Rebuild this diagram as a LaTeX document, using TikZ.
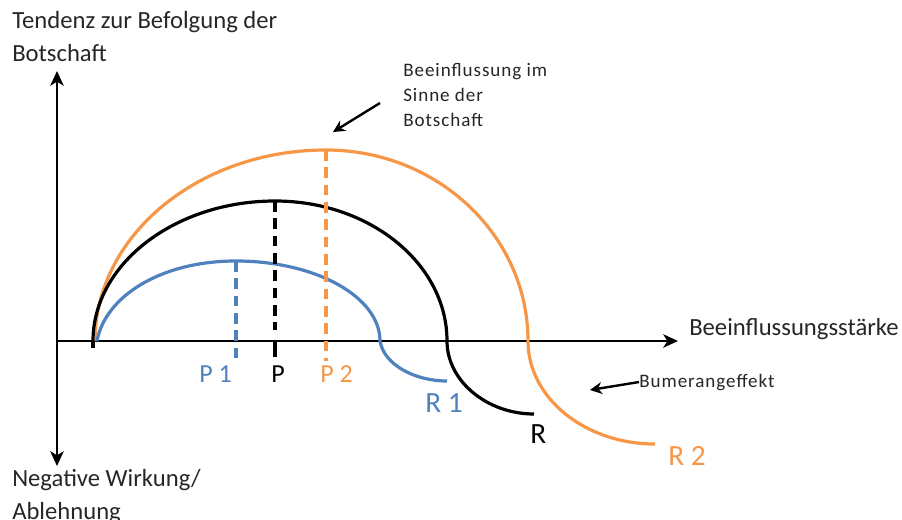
\documentclass[tikz,border=0pt]{standalone}
\usepackage{fontspec}
\setmainfont{Carlito}
\usetikzlibrary{arrows.meta, positioning}
\definecolor{pblue}{RGB}{79,129,189}
\definecolor{porange}{RGB}{247,150,70}

\begin{document}
\begin{tikzpicture}[x=0.75pt, y=-0.75pt,
        axis/.style={line width=2.2pt, -{Stealth[length=11pt,width=10pt,inset=3pt]}},
        curve/.style={line width=2.4pt},
        peakline/.style={line width=2.6pt, dash pattern=on 8pt off 5pt},
        pointer/.style={line width=1.8pt, -{Stealth[length=9pt,width=9pt,inset=3pt]}},
        lbl/.style={inner sep=0pt, anchor=base west, align=left, text=black!85, font=\fontsize{18.5}{24.75}\selectfont},
        note/.style={inner sep=0pt, anchor=base west, align=left, text=black!85, font=\fontsize{14.3}{18.75}\selectfont\addfontfeature{LetterSpace=5}},
        plbl/.style={inner sep=0pt, anchor=base west, font=\fontsize{19.5}{24}\selectfont},
        rlbl/.style={inner sep=0pt, anchor=base west, font=\fontsize{22}{26}\selectfont}]
    \useasboundingbox (0,0) rectangle (902,520);

    % axes
    \coordinate (O) at (57,341);
    \coordinate (ytop) at (57,71);
    \coordinate (ybot) at (57,466);
    \coordinate (xend) at (678,341);
    \draw[axis] (O) -- (ytop);
    \draw[axis] (O) -- (ybot);
    \draw[axis] (O) -- (xend);
    % multi-line nodes sit on their last line
    \node[lbl] (ylab) at (12,62) {Tendenz zur Befolgung der\\Botschaft};
    \node[lbl] (nlab) at (12,519) {Negative Wirkung/\\Ablehnung};
    \node[lbl] (xlab) at (689,335) {Beeinflussungsstärke};

    % curves: start, peak, axis crossing, end
    \coordinate (uS) at (97,341);  \coordinate (uP) at (236,261);
    \coordinate (uX) at (380,341); \coordinate (uE) at (447,381);
    \coordinate (bS) at (93,341);  \coordinate (bP) at (275,201);
    \coordinate (bX) at (447,341); \coordinate (bE) at (534,414);
    \coordinate (oS) at (95,341);  \coordinate (oP) at (326,150);
    \coordinate (oX) at (528,341); \coordinate (oE) at (655,444);

    \draw[curve, porange] (oS) .. controls +(0,-105) and +(-128,0) .. (oP)
        .. controls +(112,0) and +(0,-105) .. (oX)
        .. controls +(0,57) and +(-70,0) .. (oE);
    \draw[curve] (bS) .. controls +(0,-77) and +(-100,0) .. (bP)
        .. controls +(95,0) and +(0,-77) .. (bX)
        .. controls +(0,40) and +(-47,0) .. (bE);
    \draw[curve, pblue] (uS) .. controls +(8,-44) and +(-76,0) .. (uP)
        .. controls +(80,0) and +(0,-44) .. (uX)
        .. controls +(4,24) and +(-32,0) .. (uE);
    \draw[curve] (bS) -- +(0,7);

    % maxima
    \coordinate (uD) at (236,361);
    \coordinate (bD) at (275,330);
    \coordinate (bT) at (275,357);
    \coordinate (oD) at (326,361);
    \draw[peakline, pblue] (uP) -- (uD);
    \draw[peakline] (bP) -- (bD);
    \draw[curve] (bX -| bT) -- (bT);
    \draw[peakline, porange] (oP) -- (oD);

    \node[plbl, text=pblue] (P1) at (199,382) {P 1};
    \node[plbl] (P) at (271,382) {P};
    \node[plbl, text=porange] (P2) at (320,382) {P 2};
    \node[rlbl, text=pblue] (R1) at (425,412) {R 1};
    \node[rlbl] (R) at (530,443) {R};
    \node[rlbl, text=porange] (R2) at (668,465) {R 2};

    % notes
    \node[note] (infl) at (403,127) {Beeinflussung im\\Sinne der\\Botschaft};
    \coordinate (inflA) at (380,103);
    \coordinate (inflB) at (333,132);
    \draw[pointer] (inflA) -- (inflB);
    \node[note] (bum) at (639,387) {Bumerangeffekt};
    \coordinate (bumB) at (590,390);
    \draw[pointer] (bum.west) -- (bumB);
\end{tikzpicture}
\end{document}
